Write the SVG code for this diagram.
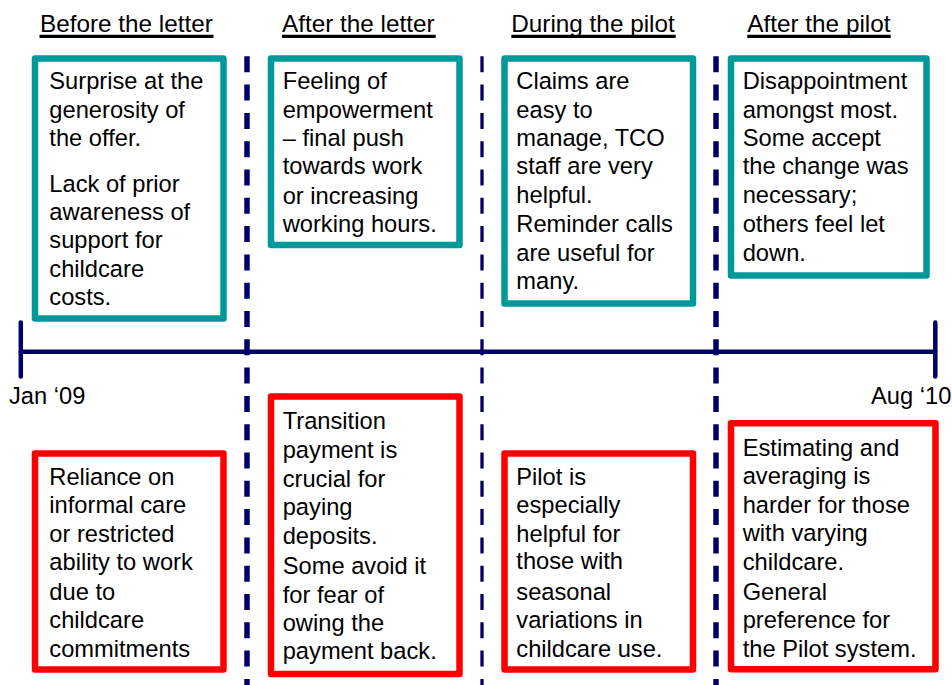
<svg xmlns="http://www.w3.org/2000/svg" width="952" height="685" viewBox="0 0 952 685">
<style>
text { font-family: "Liberation Sans", Arial, sans-serif; fill: #000; }
.h { font-size: 24.3px; }
.t { font-size: 23.7px; }
.ul { stroke: #000; stroke-width: 3.3; }
.teal { fill: #fff; stroke: #009999; stroke-width: 6.5; stroke-linejoin: round; }
.red { fill: #fff; stroke: #ff0000; stroke-width: 6.5; stroke-linejoin: round; }
.div { stroke: #000066; stroke-dasharray: 16 12.3; fill: none; }
.axis { stroke: #000066; stroke-width: 4.5; fill: none; stroke-linecap: round; }
</style>
<rect width="952" height="685" fill="#fff"/>

<g id="headers">
  <text class="h" x="40" y="32">Before the letter</text>
  <line class="ul" x1="39.5" y1="36.3" x2="213.5" y2="36.3"/>
  <text class="h" x="282" y="32">After the letter</text>
  <line class="ul" x1="282" y1="36.3" x2="435.7" y2="36.3"/>
  <text class="h" x="511.3" y="32">During the pilot</text>
  <line class="ul" x1="511.3" y1="36.3" x2="675.7" y2="36.3"/>
  <text class="h" x="747.3" y="32">After the pilot</text>
  <line class="ul" x1="747.3" y1="36.3" x2="890.7" y2="36.3"/>
</g>

<g id="connectors">
  <line class="div" x1="247" y1="56.3" x2="247" y2="685" stroke-width="5.5"/>
  <line class="div" x1="482" y1="56.3" x2="482" y2="685" stroke-width="3.3"/>
  <line class="div" x1="716" y1="56.3" x2="716" y2="685" stroke-width="5.5"/>
  <line class="axis" x1="20.8" y1="351.7" x2="935.3" y2="351.7"/>
  <line class="axis" x1="20.8" y1="322.5" x2="20.8" y2="376.5" stroke-width="4"/>
  <line class="axis" x1="935.3" y1="322.5" x2="935.3" y2="376.5" stroke-width="4"/>
  <text class="t" x="9" y="404.3">Jan ‘09</text>
  <text class="t" x="871" y="404.3">Aug ‘10</text>
</g>

<g id="before-letter-positive">
  <rect class="teal" x="35" y="58.5" width="188.5" height="260"/>
  <text class="t" x="49.3" y="89">Surprise at the</text>
  <text class="t" x="49.3" y="117.5">generosity of</text>
  <text class="t" x="49.3" y="146">the offer.</text>
  <text class="t" x="49.3" y="191.7">Lack of prior</text>
  <text class="t" x="49.3" y="220">awareness of</text>
  <text class="t" x="49.3" y="248.3">support for</text>
  <text class="t" x="49.3" y="276.7">childcare</text>
  <text class="t" x="49.3" y="305">costs.</text>
</g>

<g id="after-letter-positive">
  <rect class="teal" x="271" y="58.5" width="188.5" height="186.5"/>
  <text class="t" x="282.7" y="89">Feeling of</text>
  <text class="t" x="282.7" y="117.5">empowerment</text>
  <text class="t" x="282.7" y="146">– final push</text>
  <text class="t" x="282.7" y="174.3">towards work</text>
  <text class="t" x="282.7" y="204">or increasing</text>
  <text class="t" x="282.7" y="232.3">working hours.</text>
</g>

<g id="during-pilot-positive">
  <rect class="teal" x="504.5" y="58.5" width="188.5" height="245"/>
  <text class="t" x="516.3" y="89">Claims are</text>
  <text class="t" x="516.3" y="117.5">easy to</text>
  <text class="t" x="516.3" y="146">manage, TCO</text>
  <text class="t" x="516.3" y="174.3">staff are very</text>
  <text class="t" x="516.3" y="203.3">helpful.</text>
  <text class="t" x="516.3" y="232.3">Reminder calls</text>
  <text class="t" x="516.3" y="261">are useful for</text>
  <text class="t" x="516.3" y="289.3">many.</text>
</g>

<g id="after-pilot-positive">
  <rect class="teal" x="731" y="58.5" width="195.5" height="217"/>
  <text class="t" x="742.7" y="89">Disappointment</text>
  <text class="t" x="742.7" y="117.5">amongst most.</text>
  <text class="t" x="742.7" y="146">Some accept</text>
  <text class="t" x="742.7" y="174.3">the change was</text>
  <text class="t" x="742.7" y="203.3">necessary;</text>
  <text class="t" x="742.7" y="232.3">others feel let</text>
  <text class="t" x="742.7" y="261">down.</text>
</g>

<g id="before-letter-negative">
  <rect class="red" x="35" y="453.5" width="188.5" height="216"/>
  <text class="t" x="49.3" y="485">Reliance on</text>
  <text class="t" x="49.3" y="512.7">informal care</text>
  <text class="t" x="49.3" y="541.7">or restricted</text>
  <text class="t" x="49.3" y="570">ability to work</text>
  <text class="t" x="49.3" y="600">due to</text>
  <text class="t" x="49.3" y="628.3">childcare</text>
  <text class="t" x="49.3" y="656.7">commitments</text>
</g>

<g id="after-letter-negative">
  <rect class="red" x="271" y="396.5" width="188.5" height="277.5"/>
  <text class="t" x="282.7" y="429.3">Transition</text>
  <text class="t" x="282.7" y="457.7">payment is</text>
  <text class="t" x="282.7" y="486.7">crucial for</text>
  <text class="t" x="282.7" y="515">paying</text>
  <text class="t" x="282.7" y="544.3">deposits.</text>
  <text class="t" x="282.7" y="574.3">Some avoid it</text>
  <text class="t" x="282.7" y="602.7">for fear of</text>
  <text class="t" x="282.7" y="630.7">owing the</text>
  <text class="t" x="282.7" y="659.3">payment back.</text>
</g>

<g id="during-pilot-negative">
  <rect class="red" x="504.5" y="453.5" width="188.5" height="216"/>
  <text class="t" x="516.3" y="485">Pilot is</text>
  <text class="t" x="516.3" y="512.7">especially</text>
  <text class="t" x="516.3" y="541.7">helpful for</text>
  <text class="t" x="516.3" y="569.3">those with</text>
  <text class="t" x="516.3" y="600">seasonal</text>
  <text class="t" x="516.3" y="628.3">variations in</text>
  <text class="t" x="516.3" y="656.7">childcare use.</text>
</g>

<g id="after-pilot-negative">
  <rect class="red" x="731" y="423.3" width="204.5" height="246"/>
  <text class="t" x="742.7" y="456">Estimating and</text>
  <text class="t" x="742.7" y="484">averaging is</text>
  <text class="t" x="742.7" y="512.7">harder for those</text>
  <text class="t" x="742.7" y="541">with varying</text>
  <text class="t" x="742.7" y="570">childcare.</text>
  <text class="t" x="742.7" y="600">General</text>
  <text class="t" x="742.7" y="628.3">preference for</text>
  <text class="t" x="742.7" y="656.7">the Pilot system.</text>
</g>
</svg>
